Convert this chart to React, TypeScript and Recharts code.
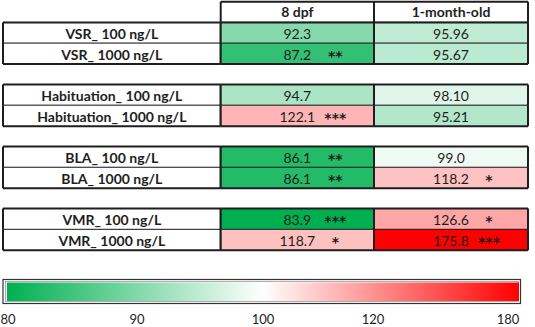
import React from "react";
import { BarChart, Bar, XAxis, YAxis } from "recharts";

const ROW_LABELS = [
  "VSR_ 100 ng/L",
  "VSR_ 1000 ng/L",
  "Habituation_ 100 ng/L",
  "Habituation_ 1000 ng/L",
  "BLA_ 100 ng/L",
  "BLA_ 1000 ng/L",
  "VMR_ 100 ng/L",
  "VMR_ 1000 ng/L",
];
const COLUMNS = ["8 dpf", "1-month-old"];
const DPF8 = [92.3, 87.2, 94.7, 122.1, 86.1, 86.1, 83.9, 118.7];
const DPF8_DEC = [1, 1, 1, 1, 1, 1, 1, 1];
const DPF8_SIG = ["", "**", "", "***", "**", "**", "***", "*"];
const MONTH1 = [95.96, 95.67, 98.1, 95.21, 99.0, 118.2, 126.6, 175.8];
const MONTH1_DEC = [2, 2, 2, 2, 1, 1, 1, 1];
const MONTH1_SIG = ["", "", "", "", "", "*", "*", "***"];
const SCALE_TICKS = [80, 90, 100, 120, 180];

// layout constants (not data)
const COL_W = [217.7, 153.3, 154];
const TOTAL_W = COL_W[0] + COL_W[1] + COL_W[2];
const FONT = "Lato, 'Open Sans', sans-serif";
const DARK = "#1e1e1e";

const ALL = [...DPF8, ...MONTH1];
const VMIN = Math.min(...ALL);
const VMAX = Math.max(...ALL);
const VMID = 100;
const GREEN = [0, 176, 80];
const WHITE = [255, 255, 255];
const RED = [255, 0, 0];

function mix(a: number[], b: number[], t: number) {
  const c = a.map((v, i) => Math.round(v + (b[i] - v) * t));
  return `rgb(${c[0]},${c[1]},${c[2]})`;
}
function colorFor(v: number) {
  if (v <= VMID) return mix(GREEN, WHITE, Math.max(0, (v - VMIN) / (VMID - VMIN)));
  return mix(WHITE, RED, Math.min(1, (v - VMID) / (VMAX - VMID)));
}

type Row = {
  key: string;
  kind: "header" | "blank" | "data";
  label?: string;
  v1?: number;
  v2?: number;
  t1?: string;
  t2?: string;
  s1?: string;
  s2?: string;
  pos?: "first" | "last";
  wL: number;
  w1: number;
  w2: number;
};

const rows: Row[] = [];
rows.push({ key: "hdr", kind: "header", wL: COL_W[0], w1: COL_W[1], w2: COL_W[2] });
ROW_LABELS.forEach((label, i) => {
  if (i > 0 && i % 2 === 0) {
    rows.push({ key: "blank" + i, kind: "blank", wL: COL_W[0], w1: COL_W[1], w2: COL_W[2] });
  }
  rows.push({
    key: "r" + i,
    kind: "data",
    label,
    v1: DPF8[i],
    v2: MONTH1[i],
    t1: DPF8[i].toFixed(DPF8_DEC[i]),
    t2: MONTH1[i].toFixed(MONTH1_DEC[i]),
    s1: DPF8_SIG[i],
    s2: MONTH1_SIG[i],
    pos: i % 2 === 0 ? "first" : "last",
    wL: COL_W[0],
    w1: COL_W[1],
    w2: COL_W[2],
  });
});

function Borders({ x, y, width, height, top, bottom }: any) {
  return (
    <g>
      <line x1={x} y1={y} x2={x} y2={y + height} stroke={DARK} strokeWidth={2} />
      <line x1={x + width} y1={y} x2={x + width} y2={y + height} stroke={DARK} strokeWidth={2} />
      <line x1={x} y1={y} x2={x + width} y2={y} stroke={DARK} strokeWidth={top ? 2 : 1} />
      <line x1={x} y1={y + height} x2={x + width} y2={y + height} stroke={DARK} strokeWidth={bottom ? 2 : 1} />
    </g>
  );
}

function makeShape(col: number) {
  return (props: any) => {
    const { x, y, width, height, payload } = props;
    const r: Row = payload;
    if (r.kind === "blank") return <g />;
    const cx = x + width / 2;
    const cy = y + height / 2;
    if (r.kind === "header") {
      if (col === 0) return <g />;
      return (
        <g>
          <rect x={x} y={y} width={width} height={height} fill="#fff" />
          <text x={cx} y={cy + 5} textAnchor="middle" fontFamily={FONT} fontWeight={700} fontSize={14} fill={DARK}>
            {COLUMNS[col - 1]}
          </text>
          <Borders x={x} y={y} width={width} height={height} top bottom />
        </g>
      );
    }
    const top = r.pos === "first";
    const bottom = r.pos === "last";
    if (col === 0) {
      return (
        <g>
          <rect x={x} y={y} width={width} height={height} fill="#fff" />
          <text x={cx} y={cy + 6} textAnchor="middle" fontFamily={FONT} fontWeight={700} fontSize={14} fill={DARK}>
            {r.label}
          </text>
          <Borders x={x} y={y} width={width} height={height} top={top} bottom={bottom} />
        </g>
      );
    }
    const v = col === 1 ? r.v1! : r.v2!;
    const t = col === 1 ? r.t1 : r.t2;
    const s = col === 1 ? r.s1 : r.s2;
    return (
      <g>
        <rect x={x} y={y} width={width} height={height} fill={colorFor(v)} />
        <text x={cx} y={cy + 6} textAnchor="middle" fontFamily={FONT} fontSize={14} fill={DARK}>
          {t}
        </text>
        {s ? (
          <text
            x={cx + 38}
            y={cy + 7}
            textAnchor="middle"
            fontFamily="'DejaVu Sans', sans-serif"
            fontSize={14}
            fontWeight={700}
            fill={DARK}
          >
            {s}
          </text>
        ) : null}
        <Borders x={x} y={y} width={width} height={height} top={top} bottom={bottom} />
      </g>
    );
  };
}

// legend tick positions as fraction of bar width
const TICK_FRAC = [0, 0.254, 0.5, 0.715, 1];

function ColorLegend() {
  const x0 = 7;
  const x1 = 519;
  return (
    <svg width={535} height={327} style={{ position: "absolute", left: 0, top: 0, pointerEvents: "none" }}>
      <defs>
        <linearGradient id="scaleGrad" x1="0" y1="0" x2="1" y2="0">
          <stop offset="0" stopColor="rgb(0,176,80)" />
          <stop offset="0.5" stopColor="#ffffff" />
          <stop offset="1" stopColor="#ff0000" />
        </linearGradient>
      </defs>
      <rect x={3} y={279.5} width={517.5} height={24} fill="#fff" stroke="#333" strokeWidth={1.2} />
      <rect x={5.5} y={281.5} width={513} height={20} fill="none" stroke="#999" strokeWidth={0.8} />
      <rect x={x0} y={282.5} width={x1 - x0} height={18.5} fill="url(#scaleGrad)" />
      {SCALE_TICKS.map((tk, i) => (
        <text
          key={tk}
          x={x0 + (x1 - x0) * TICK_FRAC[i] + (i === 0 ? 1 : i === 4 ? -11 : 0)}
          y={324}
          textAnchor="middle"
          fontFamily={FONT}
          fontSize={13}
          fill={DARK}
        >
          {tk}
        </text>
      ))}
    </svg>
  );
}

export default function App() {
  return (
    <div style={{ position: "absolute", left: 0, top: 0, width: 535, height: 327, background: "#fff", fontFamily: FONT }}>
      <BarChart
        width={535}
        height={252}
        data={rows}
        layout="vertical"
        margin={{ top: 1.7, right: 535 - 3 - TOTAL_W, left: 3, bottom: 2 }}
        barCategoryGap={0}
        barGap={0}
      >
        <XAxis type="number" domain={[0, TOTAL_W]} hide />
        <YAxis type="category" dataKey="key" hide />
        <Bar dataKey="wL" stackId="a" isAnimationActive={false} shape={makeShape(0)} />
        <Bar dataKey="w1" stackId="a" isAnimationActive={false} shape={makeShape(1)} />
        <Bar dataKey="w2" stackId="a" isAnimationActive={false} shape={makeShape(2)} />
      </BarChart>
      <ColorLegend />
    </div>
  );
}
